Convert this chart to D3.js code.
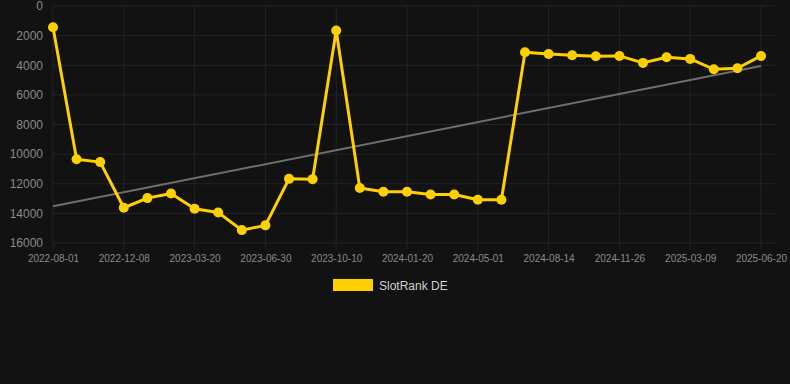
<!DOCTYPE html>
<html><head><meta charset="utf-8">
<script src="https://cdn.jsdelivr.net/npm/d3@7"></script>
<style>
html,body{margin:0;padding:0;background:#121212;}
svg{display:block;font-family:Arial, "Liberation Sans", sans-serif;}
</style></head>
<body><svg id="c" width="790" height="384"></svg>
<script>
const dates = ["2022-08-01","2022-09-13","2022-10-26","2022-12-08","2023-01-11","2023-02-14","2023-03-20","2023-04-27","2023-06-04","2023-06-30","2023-08-03","2023-09-06","2023-10-10","2023-11-13","2023-12-17","2024-01-20","2024-02-25","2024-03-31","2024-05-01","2024-06-04","2024-07-09","2024-08-14","2024-09-17","2024-10-22","2024-11-26","2024-12-29","2025-02-03","2025-03-09","2025-04-12","2025-05-16","2025-06-20"];
const rankDE = [1440,10340,10540,13620,12970,12660,13690,13940,15130,14810,11670,11690,1660,12290,12540,12540,12720,12720,13080,13080,3120,3240,3330,3390,3370,3840,3460,3570,4270,4200,3370];
const yTicks = [0,2000,4000,6000,8000,10000,12000,14000,16000];
const seriesName = "SlotRank DE";

const svg = d3.select("#c");
const mLeft = 53, mRight = 761, mTop = 6, mBottom = 243;
const x = d3.scalePoint().domain(dates).range([mLeft, mRight]);
const y = d3.scaleLinear().domain([0,16000]).range([mTop, mBottom]);

const shownDates = dates.filter((d,i)=>i%3===0);

// grid
svg.append("g").selectAll("line").data(yTicks).join("line")
  .attr("x1", mLeft).attr("x2", 775).attr("y1", d=>y(d)).attr("y2", d=>y(d))
  .attr("stroke","#242424").attr("stroke-width",1);
svg.append("g").selectAll("line").data(shownDates).join("line")
  .attr("x1", d=>x(d)).attr("x2", d=>x(d)).attr("y1", mTop).attr("y2", mBottom+6)
  .attr("stroke","#242424").attr("stroke-width",1);

// y axis
const ya = svg.append("g").attr("transform",`translate(${mLeft},0)`)
  .call(d3.axisLeft(y).tickValues(yTicks).tickFormat(d3.format("d")).tickSize(0).tickPadding(10));
ya.select(".domain").remove();
ya.selectAll("text").attr("fill","#8a8a8a").style("font-size","12px");

// x axis
const xa = svg.append("g").attr("transform",`translate(0,${mBottom})`)
  .call(d3.axisBottom(x).tickValues(shownDates).tickSize(0).tickPadding(12));
xa.select(".domain").remove();
xa.selectAll("text").attr("fill","#8a8a8a").style("font-size","10px");

// trend line (linear regression)
const n = rankDE.length;
const mi = d3.mean(rankDE.map((v,i)=>i));
const mv = d3.mean(rankDE);
const slope = d3.sum(rankDE.map((v,i)=>(i-mi)*(v-mv))) / d3.sum(rankDE.map((v,i)=>(i-mi)*(i-mi)));
const icpt = mv - slope*mi;
const trend = [0, n-1].map(i=>({d:dates[i], v:icpt+slope*i}));
svg.append("path").datum(trend)
  .attr("d", d3.line().x(p=>x(p.d)).y(p=>y(p.v)))
  .attr("stroke","#6e6e6e").attr("stroke-width",2).attr("fill","none");

// series
const pts = dates.map((d,i)=>({d, v:rankDE[i]}));
svg.append("path").datum(pts)
  .attr("d", d3.line().x(p=>x(p.d)).y(p=>y(p.v)))
  .attr("stroke","#FFD000").attr("stroke-width",3).attr("fill","none").attr("stroke-linejoin","round");
svg.append("g").selectAll("circle").data(pts).join("circle")
  .attr("cx", p=>x(p.d)).attr("cy", p=>y(p.v)).attr("r",5)
  .attr("fill","#FFD000");

// legend
const lg = svg.append("g");
lg.append("rect").attr("x",333).attr("y",279).attr("width",40).attr("height",12).attr("fill","#FFD000");
lg.append("text").attr("x",379).attr("y",289.5).text(seriesName)
  .attr("fill","#cfcfcf").style("font-size","12px");
</script></body></html>
